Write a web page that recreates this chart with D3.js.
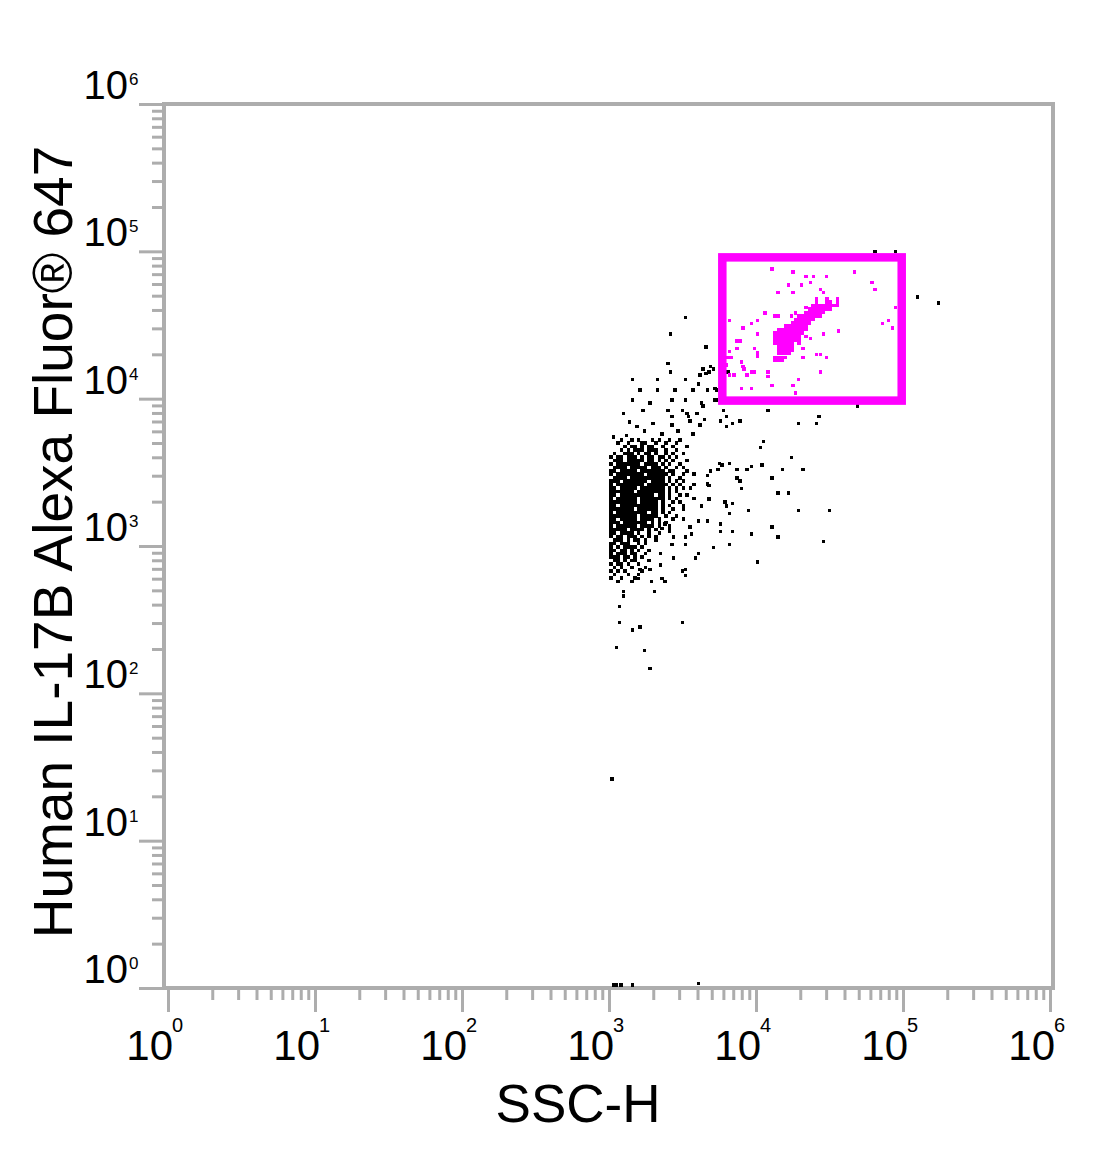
<!DOCTYPE html>
<html><head><meta charset="utf-8">
<script src="https://cdn.jsdelivr.net/npm/d3@7"></script>
<style>html,body{margin:0;padding:0;background:#fff;} svg{display:block;font-family:"Liberation Sans",Arial,sans-serif;}</style>
</head><body><svg id="chart" width="1100" height="1166"></svg>
<script>
// ---------- DATA ----------
const xTitle = "SSC-H";
const yTitle = "Human IL-17B Alexa Fluor\u00AE 647";
const majorTicks = [1, 10, 100, 1000, 10000, 100000, 1000000];
const tickExponents = ["0", "1", "2", "3", "4", "5", "6"];
// rectangular gate (SSC-H range, IL-17B range)
const gateSSC = [5900, 98000];
const gateIL17B = [9700, 91000];

// dense main population, binned (log10 units): column bins, row bins, occupancy rows
const clusterX = [3.014,3.037,3.061,3.084,3.108,3.131,3.155,3.178,3.202,3.225,3.248,3.272,3.295,3.319,3.342,3.366,3.389,3.413,3.436,3.459,3.483,3.506,3.530,3.553,3.577,3.600,3.623];
const clusterY = [3.721,3.698,3.674,3.651,3.627,3.604,3.580,3.557,3.534,3.510,3.487,3.463,3.440,3.416,3.393,3.370,3.346,3.323,3.299,3.276,3.252,3.229,3.205,3.182,3.159,3.135,3.112,3.088,3.065,3.041,3.018,2.994,2.971,2.948,2.924,2.901,2.877,2.854,2.830,2.807,2.783,2.760];
const clusterRows = [
"...#..#.#...#.#..#..#......",
"..#..#...##..#..#..#.......",
"....#.##.#.##..#..#...#....",
"...#.#.###.###..#..#.......",
".#..###.#.##.#..#.#..#.....",
"#.##.###.#.##.##.#.#.......",
".###.#####.##.#.#.#...#....",
"#.#######.####.#.#..#......",
".####.#####.###.#..#.#.....",
"##.#####.#######.##...#....",
"#.########.######.#..#..#..",
".####.##########.#..#......",
"###.#######.####.#.#.#.....",
"#.########.######.#.#...#..",
"##.#####.#######.#.#.#.#...",
"#######.########.#.#.......",
"##.##########.##.#..#.#....",
"#.######.#######.#.#....#..",
"########.#####.#..#.#......",
"##.###########.#.#...#.....",
"#######.######.#..#..#.....",
"#.#########.##.#.#.........",
"########.#####..#..#.......",
"##.#####.####.#...#..#.....",
"###.#######.#.#.#..........",
"#.######.####.#..#.........",
"#####.####.#.#...#.........",
"##.####.#..#..#............",
"#.##.###.#.#.#.............",
".###.#.##.#..#.............",
"##.###..#.#................",
"#.#.####.#.................",
"##.##.#.#..#...............",
"#.###.##..#................",
"###.##.#.#.................",
".##.#.##...#...............",
"#.##.#..#..................",
".#.#..#...#................",
"#.#.#....#.................",
".#...#..#..................",
"#..#...#...................",
"..#...#...................."
];
// scattered events outside the dense core (log10 SSC-H, log10 IL-17B)
const sparseBlack = [
[3.52,4.55],[3.42,4.44],[3.66,4.35],[3.40,4.24],[3.42,4.18],[3.64,4.20],[3.69,4.22],[3.71,4.20],
[3.62,4.16],[3.66,4.17],[3.68,4.18],[3.61,4.10],[3.16,4.13],[3.33,4.13],[3.52,4.13],[3.21,4.06],
[3.33,4.06],[3.45,4.06],[3.57,4.06],[3.67,4.06],[3.73,4.06],[3.73,3.99],[3.16,3.99],[3.28,3.97],
[3.43,3.99],[3.52,3.99],[3.63,3.97],[3.64,3.95],[3.10,3.90],[3.23,3.92],[3.40,3.92],[3.43,3.88],
[3.50,3.92],[3.53,3.90],[3.60,3.90],[3.78,3.92],[3.14,3.84],[3.19,3.81],[3.30,3.83],[3.43,3.82],
[3.54,3.88],[3.55,3.85],[3.65,3.86],[3.62,3.82],[3.76,3.85],[3.80,3.88],[3.80,3.81],[3.84,3.83],
[3.89,3.85],[4.08,3.92],[4.29,3.83],[4.41,3.83],[4.43,3.88],[4.69,3.95],[3.03,3.74],[3.12,3.75],
[3.24,3.78],[3.36,3.76],[3.47,3.78],[3.57,3.76],[4.81,5.00],[4.95,5.00],[5.10,4.69],[5.24,4.65],
[3.72,4.07],[3.81,4.18],[3.72,3.99],
[4.05,3.71],[4.03,3.67],[4.24,3.60],[4.18,3.52],[4.32,3.52],[3.97,3.54],[4.04,3.55],[3.94,3.52],
[3.87,3.52],[3.87,3.46],[3.89,3.44],[3.90,3.39],[4.11,3.46],[4.15,3.36],[4.22,3.36],[3.75,3.56],
[3.77,3.55],[3.82,3.56],[3.74,3.52],[3.69,3.51],[3.84,3.29],[3.80,3.27],[3.82,3.22],[3.95,3.24],
[4.29,3.24],[4.50,3.24],[4.11,3.13],[4.15,3.06],[4.46,3.03],[4.01,2.89],[3.82,3.01],[3.84,3.10],
[3.76,3.10],[3.76,3.15],[3.71,2.99],[3.97,3.08],[3.61,2.95],[3.59,2.92],[3.52,2.84],[3.52,2.80],
[3.44,2.92],[3.35,2.95],[3.35,2.87],[3.68,3.32],[3.67,3.48],[3.67,3.42],[3.68,3.41],[3.79,3.30],
[3.63,3.27],[3.61,3.17],[3.67,3.17],[3.55,3.13],[3.56,3.08],[3.52,3.06],[3.52,3.01],[3.41,3.10],
[3.44,3.06],[3.43,3.01],[3.36,3.12],[3.38,3.15],[3.28,2.84],[3.21,2.84],[3.20,2.78],[3.29,2.76],
[3.36,2.78],[3.38,2.76],[3.50,2.83],[3.10,2.69],[3.10,2.66],[3.31,2.69],[3.07,2.59],[3.07,2.48],
[3.16,2.43],[3.21,2.45],[3.50,2.48],[3.05,2.31],[3.24,2.29],[3.28,2.17],[3.02,1.42],
[3.03,0.02],[3.05,0.02],[3.08,0.02],[3.16,0.02],[3.61,0.03]
];

// gated population: dense binned core + scattered events (log10 units)
const gateCoreX = [4.129,4.153,4.176,4.200,4.224,4.247,4.271,4.294,4.318,4.341,4.365,4.388,4.412,4.435,4.459,4.482,4.506,4.529,4.553];
const gateCoreY = [4.680,4.656,4.633,4.609,4.586,4.562,4.539,4.515,4.492,4.469,4.445,4.422,4.398,4.375,4.351,4.328,4.305,4.281,4.258];
const gateCoreRows = [
"............#..#..#",
"............#..##.#",
"...........########",
"..........#######..",
".........######....",
".......#######.....",
"......######.......",
".....######........",
"...#######.........",
".#########.........",
"#########..........",
"########.#.........",
"########...........",
"######.#...........",
".#####.............",
".#####.............",
".####..............",
"####...............",
"###................"
];
const sparseMagenta = [
[4.11,4.88],[4.25,4.86],[4.34,4.83],[4.39,4.83],[4.48,4.83],[4.67,4.86],[4.79,4.79],[4.81,4.74],
[4.22,4.77],[4.31,4.77],[4.37,4.79],[4.44,4.74],[4.46,4.72],[4.15,4.72],[4.25,4.72],[4.34,4.62],
[4.06,4.58],[4.13,4.56],[4.15,4.56],[4.27,4.58],[4.24,4.56],[3.82,4.53],[3.97,4.51],[4.01,4.53],
[3.91,4.48],[4.01,4.44],[4.37,4.41],[4.46,4.44],[4.56,4.46],[4.86,4.51],[4.90,4.53],[4.93,4.48],
[4.95,4.62],[3.87,4.39],[3.89,4.39],[3.87,4.34],[3.99,4.34],[4.01,4.31],[4.01,4.29],[3.82,4.32],
[3.81,4.28],[3.83,4.28],[4.32,4.34],[4.32,4.28],[4.41,4.30],[4.44,4.30],[4.48,4.28],[3.90,4.25],
[3.92,4.20],[3.97,4.18],[3.99,4.18],[3.94,4.16],[3.82,4.16],[3.85,4.16],[4.08,4.18],[4.08,4.15],
[4.44,4.18],[4.29,4.13],[3.90,4.07],[3.97,4.07],[4.11,4.09],[4.25,4.09],[4.27,4.04],[3.80,4.23],
[3.91,4.22]
];

// ---------- CHART ----------
const svg = d3.select("#chart");
const axisColor = "#adadad";
const x = d3.scaleLog().domain([1, 1e6]).range([168, 1050]);
const y = d3.scaleLog().domain([1, 1e6]).range([988, 104]);
const dot = 3.5;

function fromBins(xs, ys, rows) {
  const out = [];
  rows.forEach((row, r) => {
    for (let c = 0; c < row.length && c < xs.length; c++) {
      if (row[c] === "#") out.push([xs[c], ys[r]]);
    }
  });
  return out;
}
const blackPts = fromBins(clusterX, clusterY, clusterRows).concat(sparseBlack)
  .map(d => [10 ** d[0], 10 ** d[1]]);
const magentaPts = fromBins(gateCoreX, gateCoreY, gateCoreRows).concat(sparseMagenta)
  .map(d => [10 ** d[0], 10 ** d[1]]);

// frame
const fx0 = x.range()[0] - 4, fx1 = x.range()[1] + 3, fy0 = y.range()[1], fy1 = y.range()[0];
svg.append("rect").attr("x", fx0).attr("y", fy0).attr("width", fx1 - fx0).attr("height", fy1 - fy0)
  .attr("fill", "none").attr("stroke", axisColor).attr("stroke-width", 4);

const minorTicks = x.ticks().filter(t => !majorTicks.includes(t));

// y ticks
const yAxisMajor = d3.axisLeft(y).tickValues(majorTicks).tickSize(25).tickFormat("");
const yAxisMinor = d3.axisLeft(y).tickValues(minorTicks).tickSize(12).tickFormat("");
[yAxisMajor, yAxisMinor].forEach(ax => {
  const g = svg.append("g").attr("transform", `translate(${fx0},0)`).call(ax);
  g.select(".domain").remove();
  g.selectAll("line").attr("stroke", axisColor).attr("stroke-width", 3);
});
// x ticks
const xAxisMajor = d3.axisBottom(x).tickValues(majorTicks).tickSize(24).tickFormat("");
const xAxisMinor = d3.axisBottom(x).tickValues(minorTicks).tickSize(12).tickFormat("");
[xAxisMajor, xAxisMinor].forEach(ax => {
  const g = svg.append("g").attr("transform", `translate(0,${fy1})`).call(ax);
  g.select(".domain").remove();
  g.selectAll("line").attr("stroke", axisColor).attr("stroke-width", 3);
});

// x tick labels
majorTicks.forEach((t, i) => {
  const px = x(t);
  svg.append("text").attr("x", px + 5).attr("y", 1060).attr("text-anchor", "end")
    .attr("font-size", 42).attr("fill", "#000").text("10");
  svg.append("text").attr("x", px + 4).attr("y", 1032).attr("text-anchor", "start")
    .attr("font-size", 20).attr("fill", "#000").text(tickExponents[i]);
});
// y tick labels
majorTicks.forEach((t, i) => {
  const py = y(t);
  svg.append("text").attr("x", 128).attr("y", py - 5).attr("text-anchor", "end")
    .attr("font-size", 40).attr("fill", "#000").text("10");
  svg.append("text").attr("x", 129).attr("y", py - 19).attr("text-anchor", "start")
    .attr("font-size", 17).attr("fill", "#000").text(tickExponents[i]);
});

// axis titles
svg.append("text").attr("x", 578).attr("y", 1122).attr("text-anchor", "middle")
  .attr("font-size", 53).attr("fill", "#000").text(xTitle);
svg.append("text").attr("transform", "translate(72,542) rotate(-90)").attr("text-anchor", "middle")
  .attr("font-size", 55).attr("fill", "#000").text(yTitle);

// events
svg.append("g").attr("shape-rendering", "crispEdges").selectAll("rect").data(blackPts).join("rect")
  .attr("x", d => x(d[0]) - dot / 2).attr("y", d => y(d[1]) - dot / 2)
  .attr("width", dot).attr("height", dot).attr("fill", "#000");
svg.append("g").attr("shape-rendering", "crispEdges").selectAll("rect").data(magentaPts).join("rect")
  .attr("x", d => x(d[0]) - dot / 2).attr("y", d => y(d[1]) - dot / 2)
  .attr("width", dot).attr("height", dot).attr("fill", "#ff00ff");

// gate
svg.append("rect")
  .attr("x", x(gateSSC[0])).attr("y", y(gateIL17B[1]))
  .attr("width", x(gateSSC[1]) - x(gateSSC[0])).attr("height", y(gateIL17B[0]) - y(gateIL17B[1]))
  .attr("fill", "none").attr("stroke", "#ff00ff").attr("stroke-width", 8.5);
</script></body></html>
